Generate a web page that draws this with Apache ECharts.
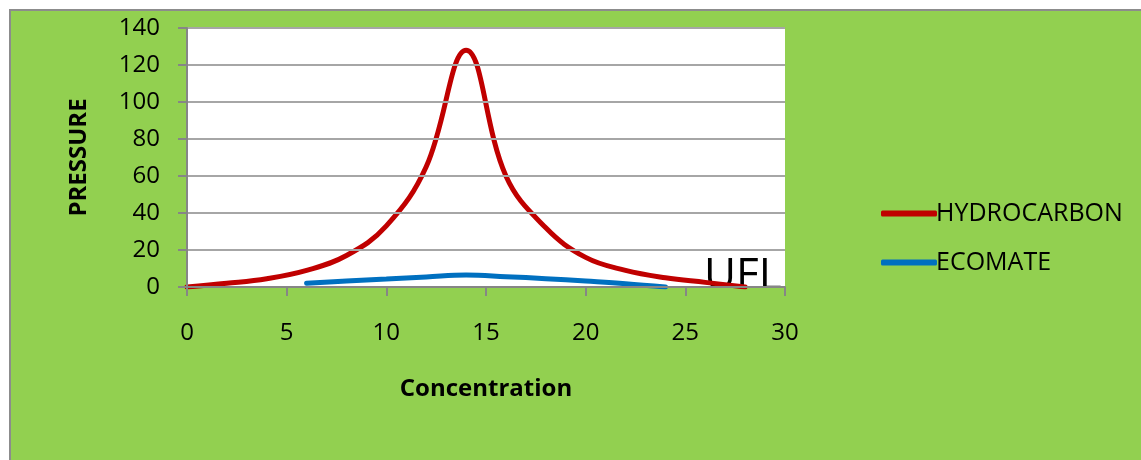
<!DOCTYPE html>
<html><head><meta charset="utf-8">
<script src="https://cdn.jsdelivr.net/npm/echarts@6/dist/echarts.min.js"></script>
<style>html,body{margin:0;padding:0;background:#fff}#c{width:1141px;height:460px}</style>
</head><body><div id="c"></div>
<script>
var hydroX = [0, 2, 4, 6, 8, 10, 12, 14, 16, 18, 20, 22, 24, 26, 28];
var hydroY = [0, 2, 4.5, 9, 17, 33, 65, 128, 60, 32, 16, 9, 5, 2.5, 0];
var ecoX = [6, 8, 10, 12, 14, 16, 18, 20, 22, 24];
var ecoY = [2, 3.2, 4.3, 5.4, 6.5, 5.6, 4.5, 3.2, 1.8, 0];
var xTicks = [0, 5, 10, 15, 20, 25, 30];
var yTicks = [0, 20, 40, 60, 80, 100, 120, 140];

var FONT = 'Open Sans';
var chart = echarts.init(document.getElementById('c'));
function pairs(xs, ys){ return xs.map(function(x,i){return [x, ys[i]];}); }
chart.setOption({
  animation: false,
  backgroundColor: '#fff',
  graphic: [
    {type:'rect', z:-10, silent:true, shape:{x:10,y:10,width:1140,height:460}, style:{fill:'#92D050', stroke:'#8C8C8C', lineWidth:2}},
    {type:'rect', z:-5, silent:true, shape:{x:187,y:28,width:598,height:259}, style:{fill:'#fff'}},
    {type:'text', z:1, silent:true, left:704, top:254, style:{text:'UFL', font:'44px "Open Sans"', fill:'#000'}},
    {type:'rect', z:1, silent:true, shape:{x:690,y:288,width:100,height:30}, style:{fill:'#92D050'}}
  ],
  grid: {left:187, top:28, width:598, height:259, containLabel:false},
  xAxis: {
    type:'value', min:0, max:30, interval:5, z:10,
    name:'Concentration', nameLocation:'middle', nameGap:90,
    nameTextStyle:{fontFamily:FONT, fontWeight:'bold', fontSize:24, color:'#000'},
    axisLine:{show:true, lineStyle:{color:'#868686', width:2}},
    axisTick:{show:true, length:9, lineStyle:{color:'#868686', width:2}},
    axisLabel:{fontFamily:FONT, fontSize:24, color:'#000', margin:34, formatter:function(v){return xTicks.indexOf(v)>=0?String(v):'';}},
    splitLine:{show:false}
  },
  yAxis: {
    type:'value', min:0, max:140, interval:20, z:10,
    name:'PRESSURE', nameLocation:'middle', nameGap:96, nameRotate:90,
    nameTextStyle:{fontFamily:FONT, fontWeight:'bold', fontSize:24, color:'#000'},
    axisLine:{show:true, lineStyle:{color:'#868686', width:2}},
    axisTick:{show:true, length:9, lineStyle:{color:'#868686', width:2}},
    axisLabel:{fontFamily:FONT, fontSize:24, color:'#000', margin:27, formatter:function(v){return yTicks.indexOf(v)>=0?String(v):'';}},
    splitLine:{show:true, lineStyle:{color:'#A6A6A6', width:2}}
  },
  legend: {
    orient:'vertical', left:876, top:196, itemGap:24,
    itemWidth:56, itemHeight:6, icon:'roundRect',
    textStyle:{fontFamily:FONT, fontSize:25, color:'#000', padding:[0,0,0,-6]},
    data:['HYDROCARBON','ECOMATE']
  },
  series: [
    {name:'HYDROCARBON', type:'line', z:3, smooth:0.4, showSymbol:false, data:pairs(hydroX, hydroY),
     lineStyle:{color:'#C00000', width:5, cap:'round'}, itemStyle:{color:'#C00000'}},
    {name:'ECOMATE', type:'line', z:3, smooth:0.4, showSymbol:false, data:pairs(ecoX, ecoY),
     lineStyle:{color:'#0070C0', width:5, cap:'round'}, itemStyle:{color:'#0070C0'}}
  ]
});
</script></body></html>
